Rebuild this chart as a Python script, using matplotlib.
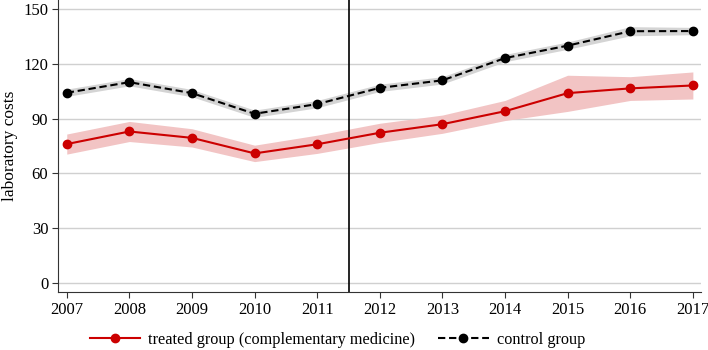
import numpy as np
import matplotlib.pyplot as plt

plt.rcParams['font.family'] = ['Liberation Serif', 'DejaVu Serif']

years = [2007, 2008, 2009, 2010, 2011, 2012, 2013, 2014, 2015, 2016, 2017]

treated = [76.1, 83.0, 79.5, 71.0, 76.0, 82.3, 87.0, 94.1, 104.0, 106.6, 108.2]
treated_lo = [70.6, 77.5, 74.5, 66.5, 71.0, 77.0, 82.0, 89.0, 94.0, 100.0, 100.8]
treated_hi = [81.6, 88.5, 84.5, 75.5, 81.0, 87.5, 92.0, 100.0, 113.8, 113.0, 115.6]

control = [104.2, 110.0, 104.0, 92.7, 98.0, 106.9, 111.0, 123.2, 130.0, 137.9, 138.0]
control_lo = [102.2, 108.0, 102.0, 90.7, 96.0, 104.9, 109.0, 121.2, 128.0, 135.4, 136.0]
control_hi = [106.2, 112.0, 106.0, 94.7, 100.0, 108.9, 113.0, 125.2, 132.0, 140.4, 140.0]

fig = plt.figure(figsize=(7.08, 3.5), dpi=100)
ax = fig.add_axes([58 / 708, 1 - 292 / 350, (701 - 58) / 708, 292 / 350])

ax.fill_between(years, treated_lo, treated_hi, color='#f2c4c4', lw=0, zorder=1)
ax.fill_between(years, control_lo, control_hi, color='#d4d4d4', lw=0, zorder=1)

ax.plot(years, treated, color='#cc0000', lw=1.5, marker='o', ms=6,
        label='treated group (complementary medicine)', zorder=3)
ax.plot(years, control, color='black', lw=1.5, ls=(0, (3.5, 1.8)), marker='o', ms=6,
        label='control group', zorder=3)

ax.axvline(2011.5, color='black', lw=1.2, zorder=2)

ax.set_xlim(2006.86, 2017.13)
ax.set_ylim(-4.9, 155)
ax.set_xticks(years)
ax.set_yticks([0, 30, 60, 90, 120, 150])
ax.yaxis.grid(True, color='#d0d0d0', lw=1)
ax.set_axisbelow(True)
for s in ['top', 'right']:
    ax.spines[s].set_visible(False)
for s in ['left', 'bottom']:
    ax.spines[s].set_color('#333333')
ax.tick_params(labelsize=12, color='#333333', length=4, pad=3)
ax.set_ylabel('laboratory costs', fontsize=12.5, labelpad=4)

fig.legend(*ax.get_legend_handles_labels(), loc='center left',
           bbox_to_anchor=(90 / 708, 1 - 340 / 350), ncol=2, frameon=False,
           fontsize=11.7, handlelength=3.1, handletextpad=0.5, columnspacing=1.4,
           borderpad=0, borderaxespad=0)

fig.savefig('out.png', dpi=100)
